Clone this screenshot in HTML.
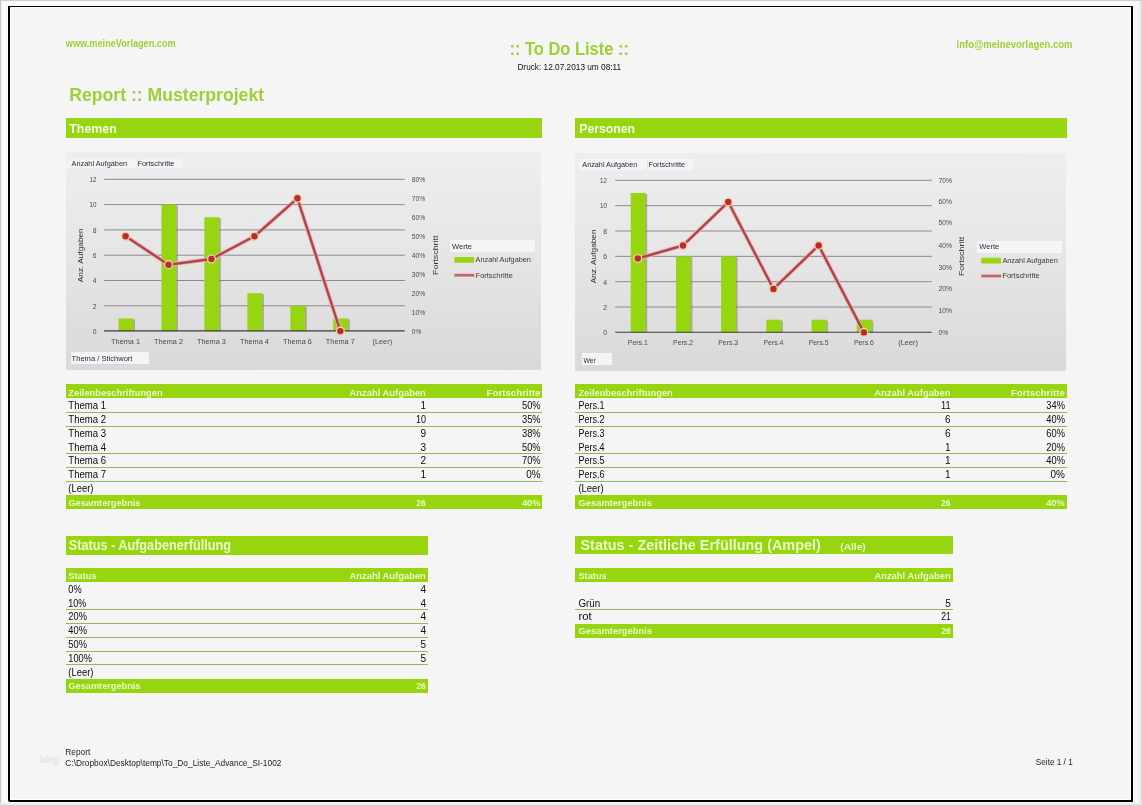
<!DOCTYPE html>
<html lang="de"><head><meta charset="utf-8"><title>To Do Liste - Report</title>
<style>
html,body{margin:0;padding:0}
body{width:1142px;height:806px;position:relative;overflow:hidden;background:#fbfbfb;font-family:"Liberation Sans", sans-serif}
svg text{font-family:"Liberation Sans", sans-serif;white-space:pre}
#page{position:absolute;left:8px;top:6px;width:1121px;height:793px;border:solid #000;border-width:1px 2px 2px 2px;background:#f5f5f5;box-shadow:inset 0 0 0 1px #fff;border-bottom-left-radius:2px}
</style></head><body>
<div style="position:absolute;left:0;top:0;width:1142px;height:1px;background:#d2d2d2"></div>
<div style="position:absolute;left:0;top:0;width:1px;height:806px;background:#c8c8c8"></div>
<div style="position:absolute;left:1px;top:1px;width:1px;height:805px;background:#f0f0f0"></div>
<div style="position:absolute;left:1134px;top:1px;width:8px;height:805px;background:linear-gradient(to right,#f5f5f5,#fafafa 30%,#f3f3f3 60%,#eee 78%,#e2e2e2 90%,#d2d2d2)"></div>
<div style="position:absolute;left:0;top:803px;width:1142px;height:2px;background:#ececec"></div>
<div style="position:absolute;left:0;top:805px;width:1142px;height:1px;background:#cfcfcf"></div>
<div id="page"></div>
<div style="position:absolute;left:66px;top:118px;width:476px;height:20px;background:#96d50f;"></div>
<div style="position:absolute;left:575px;top:118px;width:492px;height:20px;background:#96d50f;"></div>
<div style="position:absolute;left:66px;top:152px;width:475px;height:217.9px;background:linear-gradient(#eeeeee,#e6e6e6 45%,#d9d9d9);"></div>
<svg style="position:absolute;left:0;top:0" width="1142" height="806" viewBox="0 0 1142 806"><line x1="104.1" x2="404.8" y1="305.80" y2="305.80" stroke="#8a8a8a" stroke-width="1"/><line x1="104.1" x2="404.8" y1="280.50" y2="280.50" stroke="#8a8a8a" stroke-width="1"/><line x1="104.1" x2="404.8" y1="255.20" y2="255.20" stroke="#8a8a8a" stroke-width="1"/><line x1="104.1" x2="404.8" y1="229.90" y2="229.90" stroke="#8a8a8a" stroke-width="1"/><line x1="104.1" x2="404.8" y1="204.60" y2="204.60" stroke="#8a8a8a" stroke-width="1"/><line x1="104.1" x2="404.8" y1="179.30" y2="179.30" stroke="#8a8a8a" stroke-width="1"/><rect x="119.98" y="319.45" width="15" height="11.65" fill="#666" opacity=".45"/><rect x="118.48" y="318.45" width="15" height="12.65" fill="#96d50f"/><rect x="162.94" y="205.60" width="15" height="125.50" fill="#666" opacity=".45"/><rect x="161.44" y="204.60" width="15" height="126.50" fill="#96d50f"/><rect x="205.89" y="218.25" width="15" height="112.85" fill="#666" opacity=".45"/><rect x="204.39" y="217.25" width="15" height="113.85" fill="#96d50f"/><rect x="248.85" y="294.15" width="15" height="36.95" fill="#666" opacity=".45"/><rect x="247.35" y="293.15" width="15" height="37.95" fill="#96d50f"/><rect x="291.81" y="306.80" width="15" height="24.30" fill="#666" opacity=".45"/><rect x="290.31" y="305.80" width="15" height="25.30" fill="#96d50f"/><rect x="334.76" y="319.45" width="15" height="11.65" fill="#666" opacity=".45"/><rect x="333.26" y="318.45" width="15" height="12.65" fill="#96d50f"/><line x1="104.1" x2="404.8" y1="330.90" y2="330.90" stroke="#3c3c3c" stroke-width="1.1"/><polyline points="125.58,236.23 168.54,264.69 211.49,259.00 254.45,236.23 297.41,198.28 340.36,331.10" fill="none" stroke="#ecb4b2" stroke-width="4.4" stroke-linejoin="round" opacity=".8"/><polyline points="125.58,236.23 168.54,264.69 211.49,259.00 254.45,236.23 297.41,198.28 340.36,331.10" fill="none" stroke="#ad464c" stroke-width="2.4" stroke-linejoin="round"/><circle cx="125.58" cy="236.23" r="3.9" fill="#b92c2c" stroke="#f3cfa8" stroke-width="1.4"/><circle cx="168.54" cy="264.69" r="3.9" fill="#b92c2c" stroke="#f3cfa8" stroke-width="1.4"/><circle cx="211.49" cy="259.00" r="3.9" fill="#b92c2c" stroke="#f3cfa8" stroke-width="1.4"/><circle cx="254.45" cy="236.23" r="3.9" fill="#b92c2c" stroke="#f3cfa8" stroke-width="1.4"/><circle cx="297.41" cy="198.28" r="3.9" fill="#b92c2c" stroke="#f3cfa8" stroke-width="1.4"/><circle cx="340.36" cy="331.10" r="3.9" fill="#b92c2c" stroke="#f3cfa8" stroke-width="1.4"/><rect x="454.4" y="257.0" width="19.8" height="5.8" rx="1.2" fill="#96d50f"/><line x1="454.4" x2="474.4" y1="275.2" y2="275.2" stroke="#cd6269" stroke-width="2.8"/></svg>
<div style="position:absolute;left:68px;top:158.6px;width:68.6px;height:9.8px;background:#f2f4f6;"></div>
<div style="position:absolute;left:136.6px;top:158.6px;width:46px;height:9.8px;background:#f2f4f6;border-left:1px solid #e2e5ea;box-sizing:border-box"></div>
<div style="position:absolute;left:70.5px;top:352.4px;width:78.8px;height:11.7px;background:#f2f4f6;"></div>
<div style="position:absolute;left:449.6px;top:239.7px;width:85.8px;height:12px;background:#f3f5f7;"></div>
<div style="position:absolute;left:575px;top:152.5px;width:491.3px;height:218.4px;background:linear-gradient(#eeeeee,#e6e6e6 45%,#d9d9d9);"></div>
<svg style="position:absolute;left:0;top:0" width="1142" height="806" viewBox="0 0 1142 806"><line x1="615.2" x2="931.7" y1="307.05" y2="307.05" stroke="#8a8a8a" stroke-width="1"/><line x1="615.2" x2="931.7" y1="281.70" y2="281.70" stroke="#8a8a8a" stroke-width="1"/><line x1="615.2" x2="931.7" y1="256.35" y2="256.35" stroke="#8a8a8a" stroke-width="1"/><line x1="615.2" x2="931.7" y1="231.00" y2="231.00" stroke="#8a8a8a" stroke-width="1"/><line x1="615.2" x2="931.7" y1="205.65" y2="205.65" stroke="#8a8a8a" stroke-width="1"/><line x1="615.2" x2="931.7" y1="180.30" y2="180.30" stroke="#8a8a8a" stroke-width="1"/><rect x="632.21" y="193.98" width="15" height="138.42" fill="#666" opacity=".45"/><rect x="630.71" y="192.98" width="15" height="139.42" fill="#96d50f"/><rect x="677.42" y="257.35" width="15" height="75.05" fill="#666" opacity=".45"/><rect x="675.92" y="256.35" width="15" height="76.05" fill="#96d50f"/><rect x="722.64" y="257.35" width="15" height="75.05" fill="#666" opacity=".45"/><rect x="721.14" y="256.35" width="15" height="76.05" fill="#96d50f"/><rect x="767.85" y="320.72" width="15" height="11.68" fill="#666" opacity=".45"/><rect x="766.35" y="319.72" width="15" height="12.68" fill="#96d50f"/><rect x="813.06" y="320.72" width="15" height="11.68" fill="#666" opacity=".45"/><rect x="811.56" y="319.72" width="15" height="12.68" fill="#96d50f"/><rect x="858.28" y="320.72" width="15" height="11.68" fill="#666" opacity=".45"/><rect x="856.78" y="319.72" width="15" height="12.68" fill="#96d50f"/><line x1="615.2" x2="931.7" y1="332.20" y2="332.20" stroke="#3c3c3c" stroke-width="1.1"/><polyline points="637.81,258.52 683.02,245.49 728.24,202.03 773.45,288.94 818.66,245.49 863.88,332.40" fill="none" stroke="#ecb4b2" stroke-width="4.4" stroke-linejoin="round" opacity=".8"/><polyline points="637.81,258.52 683.02,245.49 728.24,202.03 773.45,288.94 818.66,245.49 863.88,332.40" fill="none" stroke="#ad464c" stroke-width="2.4" stroke-linejoin="round"/><circle cx="637.81" cy="258.52" r="3.9" fill="#b92c2c" stroke="#f3cfa8" stroke-width="1.4"/><circle cx="683.02" cy="245.49" r="3.9" fill="#b92c2c" stroke="#f3cfa8" stroke-width="1.4"/><circle cx="728.24" cy="202.03" r="3.9" fill="#b92c2c" stroke="#f3cfa8" stroke-width="1.4"/><circle cx="773.45" cy="288.94" r="3.9" fill="#b92c2c" stroke="#f3cfa8" stroke-width="1.4"/><circle cx="818.66" cy="245.49" r="3.9" fill="#b92c2c" stroke="#f3cfa8" stroke-width="1.4"/><circle cx="863.88" cy="332.40" r="3.9" fill="#b92c2c" stroke="#f3cfa8" stroke-width="1.4"/><rect x="981.2" y="257.8" width="19.8" height="5.8" rx="1.2" fill="#96d50f"/><line x1="981.2" x2="1001.2" y1="276" y2="276" stroke="#cd6269" stroke-width="2.8"/></svg>
<div style="position:absolute;left:578.6px;top:158.6px;width:68px;height:11px;background:#f2f4f6;"></div>
<div style="position:absolute;left:646.6px;top:158.6px;width:46px;height:11px;background:#f2f4f6;border-left:1px solid #e2e5ea;box-sizing:border-box"></div>
<div style="position:absolute;left:581.8px;top:353.2px;width:30.3px;height:12px;background:#f2f4f6;"></div>
<div style="position:absolute;left:976.9px;top:240.6px;width:84.7px;height:12.5px;background:#f3f5f7;"></div>
<div style="position:absolute;left:66px;top:384.1px;width:476px;height:14.099999999999966px;background:#96d50f;"></div>
<div style="position:absolute;left:66px;top:411.9px;width:476px;height:1px;background:#98b45c;"></div>
<div style="position:absolute;left:66px;top:425.8px;width:476px;height:1px;background:#98b45c;"></div>
<div style="position:absolute;left:66px;top:452.7px;width:476px;height:1px;background:#98b45c;"></div>
<div style="position:absolute;left:66px;top:466.7px;width:476px;height:1px;background:#98b45c;"></div>
<div style="position:absolute;left:66px;top:481.1px;width:476px;height:1px;background:#98b45c;"></div>
<div style="position:absolute;left:66px;top:494.5px;width:476px;height:14.100000000000023px;background:#96d50f;"></div>
<div style="position:absolute;left:575px;top:384.1px;width:492px;height:14.099999999999966px;background:#96d50f;"></div>
<div style="position:absolute;left:575px;top:411.9px;width:492px;height:1px;background:#98b45c;"></div>
<div style="position:absolute;left:575px;top:425.8px;width:492px;height:1px;background:#98b45c;"></div>
<div style="position:absolute;left:575px;top:452.7px;width:492px;height:1px;background:#98b45c;"></div>
<div style="position:absolute;left:575px;top:466.7px;width:492px;height:1px;background:#98b45c;"></div>
<div style="position:absolute;left:575px;top:481.1px;width:492px;height:1px;background:#98b45c;"></div>
<div style="position:absolute;left:575px;top:494.5px;width:492px;height:14.100000000000023px;background:#96d50f;"></div>
<div style="position:absolute;left:66px;top:536px;width:362px;height:18.5px;background:#96d50f;"></div>
<div style="position:absolute;left:575px;top:536px;width:378px;height:18.2px;background:#96d50f;"></div>
<div style="position:absolute;left:66px;top:568px;width:362px;height:14.299999999999955px;background:#96d50f;"></div>
<div style="position:absolute;left:66px;top:608.9px;width:362px;height:1px;background:#98b45c;"></div>
<div style="position:absolute;left:66px;top:622.7px;width:362px;height:1px;background:#98b45c;"></div>
<div style="position:absolute;left:66px;top:637.0px;width:362px;height:1px;background:#98b45c;"></div>
<div style="position:absolute;left:66px;top:650.9px;width:362px;height:1px;background:#98b45c;"></div>
<div style="position:absolute;left:66px;top:664.1px;width:362px;height:1px;background:#98b45c;"></div>
<div style="position:absolute;left:66px;top:678.5px;width:362px;height:14.299999999999955px;background:#96d50f;"></div>
<div style="position:absolute;left:575px;top:568.1px;width:378px;height:14.299999999999955px;background:#96d50f;"></div>
<div style="position:absolute;left:575px;top:609.0px;width:378px;height:1px;background:#98b45c;"></div>
<div style="position:absolute;left:575px;top:623.6px;width:378px;height:14.399999999999977px;background:#96d50f;"></div>
<svg style="position:absolute;left:0;top:0" width="1142" height="806" viewBox="0 0 1142 806">
<text transform="translate(65.80 46.80) scale(0.9164 1)" font-size="10" font-weight="bold" fill="#9fcf36">www.meineVorlagen.com</text>
<text transform="translate(509.50 55.10) scale(0.9147 1)" font-size="18" font-weight="bold" fill="#9fcf36">:: To Do Liste ::</text>
<text transform="translate(517.40 69.80) scale(0.9752 1)" font-size="8.5" fill="#111">Druck: 12.07.2013 um 08:11</text>
<text transform="translate(956.60 47.90) scale(0.9508 1)" font-size="10" font-weight="bold" fill="#9fcf36">info@meinevorlagen.com</text>
<text transform="translate(69.30 100.80) scale(1.0078 1)" font-size="17.5" font-weight="bold" fill="#9fcf36">Report :: Musterprojekt</text>
<text transform="translate(69.30 133.00) scale(0.9909 1)" font-size="12.5" font-weight="bold" fill="#f4fce0">Themen</text>
<text transform="translate(579.20 133.00) scale(0.9830 1)" font-size="12.5" font-weight="bold" fill="#f4fce0">Personen</text>
<text transform="translate(92.70 333.90) scale(0.9109 1)" font-size="7.5" fill="#4a4a4a">0</text>
<text transform="translate(92.70 308.60) scale(0.9109 1)" font-size="7.5" fill="#4a4a4a">2</text>
<text transform="translate(92.70 283.30) scale(0.9109 1)" font-size="7.5" fill="#4a4a4a">4</text>
<text transform="translate(92.70 258.00) scale(0.9109 1)" font-size="7.5" fill="#4a4a4a">6</text>
<text transform="translate(92.70 232.70) scale(0.9109 1)" font-size="7.5" fill="#4a4a4a">8</text>
<text transform="translate(89.50 207.40) scale(0.8390 1)" font-size="7.5" fill="#4a4a4a">10</text>
<text transform="translate(89.50 182.10) scale(0.8390 1)" font-size="7.5" fill="#4a4a4a">12</text>
<text transform="translate(411.80 333.90) scale(0.8761 1)" font-size="7.5" fill="#4a4a4a">0%</text>
<text transform="translate(411.80 314.93) scale(0.8991 1)" font-size="7.5" fill="#4a4a4a">10%</text>
<text transform="translate(411.80 295.95) scale(0.8991 1)" font-size="7.5" fill="#4a4a4a">20%</text>
<text transform="translate(411.80 276.98) scale(0.8991 1)" font-size="7.5" fill="#4a4a4a">30%</text>
<text transform="translate(411.80 258.00) scale(0.8991 1)" font-size="7.5" fill="#4a4a4a">40%</text>
<text transform="translate(411.80 239.03) scale(0.8991 1)" font-size="7.5" fill="#4a4a4a">50%</text>
<text transform="translate(411.80 220.05) scale(0.8991 1)" font-size="7.5" fill="#4a4a4a">60%</text>
<text transform="translate(411.80 201.08) scale(0.8991 1)" font-size="7.5" fill="#4a4a4a">70%</text>
<text transform="translate(411.80 182.10) scale(0.8991 1)" font-size="7.5" fill="#4a4a4a">80%</text>
<text transform="translate(111.08 344.20) scale(0.9794 1)" font-size="7.5" fill="#4a4a4a">Thema 1</text>
<text transform="translate(154.04 344.20) scale(0.9794 1)" font-size="7.5" fill="#4a4a4a">Thema 2</text>
<text transform="translate(196.99 344.20) scale(0.9794 1)" font-size="7.5" fill="#4a4a4a">Thema 3</text>
<text transform="translate(239.95 344.20) scale(0.9794 1)" font-size="7.5" fill="#4a4a4a">Thema 4</text>
<text transform="translate(282.91 344.20) scale(0.9794 1)" font-size="7.5" fill="#4a4a4a">Thema 6</text>
<text transform="translate(325.86 344.20) scale(0.9794 1)" font-size="7.5" fill="#4a4a4a">Thema 7</text>
<text transform="translate(372.52 344.20) scale(0.9792 1)" font-size="7.5" fill="#4a4a4a">(Leer)</text>
<text transform="translate(80.20 255.20) rotate(-90) scale(1.0375 1) translate(-26.02 2.88)" font-size="8" fill="#333">Anz. Aufgaben</text>
<text transform="translate(435.20 255.20) rotate(-90) scale(1.1107 1) translate(-17.78 2.88)" font-size="8" fill="#333">Fortschritt</text>
<text transform="translate(71.60 166.20) scale(0.9803 1)" font-size="7.5" fill="#2a2d3a">Anzahl Aufgaben</text>
<text transform="translate(137.40 166.20) scale(0.9863 1)" font-size="7.5" fill="#2a2d3a">Fortschritte</text>
<text transform="translate(71.60 361.00) scale(1.0093 1)" font-size="7.5" fill="#2a2d3a">Thema / Stichwort</text>
<text transform="translate(452.00 248.80) scale(1.0063 1)" font-size="7.5" fill="#2a2d3a">Werte</text>
<text transform="translate(475.60 261.80) scale(0.9767 1)" font-size="7.5" fill="#3a3a3a">Anzahl Aufgaben</text>
<text transform="translate(475.60 277.90) scale(0.9969 1)" font-size="7.5" fill="#3a3a3a">Fortschritte</text>
<text transform="translate(603.20 335.20) scale(0.9109 1)" font-size="7.5" fill="#4a4a4a">0</text>
<text transform="translate(603.20 309.85) scale(0.9109 1)" font-size="7.5" fill="#4a4a4a">2</text>
<text transform="translate(603.20 284.50) scale(0.9109 1)" font-size="7.5" fill="#4a4a4a">4</text>
<text transform="translate(603.20 259.15) scale(0.9109 1)" font-size="7.5" fill="#4a4a4a">6</text>
<text transform="translate(603.20 233.80) scale(0.9109 1)" font-size="7.5" fill="#4a4a4a">8</text>
<text transform="translate(600.00 208.45) scale(0.8390 1)" font-size="7.5" fill="#4a4a4a">10</text>
<text transform="translate(600.00 183.10) scale(0.8390 1)" font-size="7.5" fill="#4a4a4a">12</text>
<text transform="translate(938.60 335.20) scale(0.8761 1)" font-size="7.5" fill="#4a4a4a">0%</text>
<text transform="translate(938.60 313.07) scale(0.8991 1)" font-size="7.5" fill="#4a4a4a">10%</text>
<text transform="translate(938.60 290.54) scale(0.8991 1)" font-size="7.5" fill="#4a4a4a">20%</text>
<text transform="translate(938.60 270.21) scale(0.8991 1)" font-size="7.5" fill="#4a4a4a">30%</text>
<text transform="translate(938.60 247.99) scale(0.8991 1)" font-size="7.5" fill="#4a4a4a">40%</text>
<text transform="translate(938.60 225.46) scale(0.8991 1)" font-size="7.5" fill="#4a4a4a">50%</text>
<text transform="translate(938.60 203.83) scale(0.8991 1)" font-size="7.5" fill="#4a4a4a">60%</text>
<text transform="translate(938.60 183.10) scale(0.8991 1)" font-size="7.5" fill="#4a4a4a">70%</text>
<text transform="translate(627.81 345.20) scale(0.9222 1)" font-size="7.5" fill="#4a4a4a">Pers.1</text>
<text transform="translate(673.02 345.20) scale(0.9222 1)" font-size="7.5" fill="#4a4a4a">Pers.2</text>
<text transform="translate(718.24 345.20) scale(0.9222 1)" font-size="7.5" fill="#4a4a4a">Pers.3</text>
<text transform="translate(763.45 345.20) scale(0.9222 1)" font-size="7.5" fill="#4a4a4a">Pers.4</text>
<text transform="translate(808.66 345.20) scale(0.9222 1)" font-size="7.5" fill="#4a4a4a">Pers.5</text>
<text transform="translate(853.88 345.20) scale(0.9222 1)" font-size="7.5" fill="#4a4a4a">Pers.6</text>
<text transform="translate(898.29 345.20) scale(0.9792 1)" font-size="7.5" fill="#4a4a4a">(Leer)</text>
<text transform="translate(592.80 256.35) rotate(-90) scale(1.0375 1) translate(-26.02 2.88)" font-size="8" fill="#333">Anz. Aufgaben</text>
<text transform="translate(961.30 256.35) rotate(-90) scale(1.1107 1) translate(-17.78 2.88)" font-size="8" fill="#333">Fortschritt</text>
<text transform="translate(582.30 166.90) scale(0.9697 1)" font-size="7.5" fill="#2a2d3a">Anzahl Aufgaben</text>
<text transform="translate(648.50 166.90) scale(0.9783 1)" font-size="7.5" fill="#2a2d3a">Fortschritte</text>
<text transform="translate(583.40 363.00) scale(0.9101 1)" font-size="7.5" fill="#2a2d3a">Wer</text>
<text transform="translate(979.30 249.30) scale(1.0063 1)" font-size="7.5" fill="#2a2d3a">Werte</text>
<text transform="translate(1002.40 262.80) scale(0.9767 1)" font-size="7.5" fill="#3a3a3a">Anzahl Aufgaben</text>
<text transform="translate(1002.40 278.10) scale(0.9969 1)" font-size="7.5" fill="#3a3a3a">Fortschritte</text>
<text transform="translate(68.30 395.90) scale(0.9846 1)" font-size="9.5" font-weight="bold" fill="#eaf8c8">Zeilenbeschriftungen</text>
<text transform="translate(349.50 395.90) scale(0.9905 1)" font-size="9.5" font-weight="bold" fill="#eaf8c8">Anzahl Aufgaben</text>
<text transform="translate(486.60 395.90) scale(1.0228 1)" font-size="9.5" font-weight="bold" fill="#eaf8c8">Fortschritte</text>
<text transform="translate(68.30 408.90) scale(0.9402 1)" font-size="10.2" fill="#0c0c0c">Thema 1</text>
<text transform="translate(420.40 408.90) scale(0.9873 1)" font-size="10.2" fill="#0c0c0c">1</text>
<text transform="translate(522.00 408.90) scale(0.9122 1)" font-size="10.2" fill="#0c0c0c">50%</text>
<text transform="translate(68.30 423.00) scale(0.9402 1)" font-size="10.2" fill="#0c0c0c">Thema 2</text>
<text transform="translate(416.00 423.00) scale(0.8815 1)" font-size="10.2" fill="#0c0c0c">10</text>
<text transform="translate(522.00 423.00) scale(0.9122 1)" font-size="10.2" fill="#0c0c0c">35%</text>
<text transform="translate(68.30 436.90) scale(0.9402 1)" font-size="10.2" fill="#0c0c0c">Thema 3</text>
<text transform="translate(420.40 436.90) scale(0.9873 1)" font-size="10.2" fill="#0c0c0c">9</text>
<text transform="translate(522.00 436.90) scale(0.9122 1)" font-size="10.2" fill="#0c0c0c">38%</text>
<text transform="translate(68.30 451.00) scale(0.9402 1)" font-size="10.2" fill="#0c0c0c">Thema 4</text>
<text transform="translate(420.40 451.00) scale(0.9873 1)" font-size="10.2" fill="#0c0c0c">3</text>
<text transform="translate(522.00 451.00) scale(0.9122 1)" font-size="10.2" fill="#0c0c0c">50%</text>
<text transform="translate(68.30 463.80) scale(0.9402 1)" font-size="10.2" fill="#0c0c0c">Thema 6</text>
<text transform="translate(420.40 463.80) scale(0.9873 1)" font-size="10.2" fill="#0c0c0c">2</text>
<text transform="translate(522.00 463.80) scale(0.9122 1)" font-size="10.2" fill="#0c0c0c">70%</text>
<text transform="translate(68.30 477.90) scale(0.9402 1)" font-size="10.2" fill="#0c0c0c">Thema 7</text>
<text transform="translate(420.40 477.90) scale(0.9873 1)" font-size="10.2" fill="#0c0c0c">1</text>
<text transform="translate(526.20 477.90) scale(0.9773 1)" font-size="10.2" fill="#0c0c0c">0%</text>
<text transform="translate(68.30 492.00) scale(0.9269 1)" font-size="10.2" fill="#0c0c0c">(Leer)</text>
<text transform="translate(68.40 505.90) scale(0.9697 1)" font-size="9.5" font-weight="bold" fill="#eaf8c8">Gesamtergebnis</text>
<text transform="translate(416.30 505.90) scale(0.9075 1)" font-size="9.5" font-weight="bold" fill="#eaf8c8">26</text>
<text transform="translate(521.90 505.90) scale(0.9781 1)" font-size="9.5" font-weight="bold" fill="#eaf8c8">40%</text>
<text transform="translate(578.40 395.90) scale(0.9846 1)" font-size="9.5" font-weight="bold" fill="#eaf8c8">Zeilenbeschriftungen</text>
<text transform="translate(874.20 395.90) scale(0.9905 1)" font-size="9.5" font-weight="bold" fill="#eaf8c8">Anzahl Aufgaben</text>
<text transform="translate(1010.90 395.90) scale(1.0228 1)" font-size="9.5" font-weight="bold" fill="#eaf8c8">Fortschritte</text>
<text transform="translate(578.40 408.90) scale(0.8828 1)" font-size="10.2" fill="#0c0c0c">Pers.1</text>
<text transform="translate(941.10 408.90) scale(0.9075 1)" font-size="10.2" fill="#0c0c0c">11</text>
<text transform="translate(1046.30 408.90) scale(0.9122 1)" font-size="10.2" fill="#0c0c0c">34%</text>
<text transform="translate(578.40 423.00) scale(0.8828 1)" font-size="10.2" fill="#0c0c0c">Pers.2</text>
<text transform="translate(945.10 423.00) scale(0.9873 1)" font-size="10.2" fill="#0c0c0c">6</text>
<text transform="translate(1046.30 423.00) scale(0.9122 1)" font-size="10.2" fill="#0c0c0c">40%</text>
<text transform="translate(578.40 436.90) scale(0.8828 1)" font-size="10.2" fill="#0c0c0c">Pers.3</text>
<text transform="translate(945.10 436.90) scale(0.9873 1)" font-size="10.2" fill="#0c0c0c">6</text>
<text transform="translate(1046.30 436.90) scale(0.9122 1)" font-size="10.2" fill="#0c0c0c">60%</text>
<text transform="translate(578.40 451.00) scale(0.8828 1)" font-size="10.2" fill="#0c0c0c">Pers.4</text>
<text transform="translate(945.10 451.00) scale(0.9873 1)" font-size="10.2" fill="#0c0c0c">1</text>
<text transform="translate(1046.30 451.00) scale(0.9122 1)" font-size="10.2" fill="#0c0c0c">20%</text>
<text transform="translate(578.40 463.80) scale(0.8828 1)" font-size="10.2" fill="#0c0c0c">Pers.5</text>
<text transform="translate(945.10 463.80) scale(0.9873 1)" font-size="10.2" fill="#0c0c0c">1</text>
<text transform="translate(1046.30 463.80) scale(0.9122 1)" font-size="10.2" fill="#0c0c0c">40%</text>
<text transform="translate(578.40 477.90) scale(0.8828 1)" font-size="10.2" fill="#0c0c0c">Pers.6</text>
<text transform="translate(945.10 477.90) scale(0.9873 1)" font-size="10.2" fill="#0c0c0c">1</text>
<text transform="translate(1050.50 477.90) scale(0.9773 1)" font-size="10.2" fill="#0c0c0c">0%</text>
<text transform="translate(578.40 492.00) scale(0.9269 1)" font-size="10.2" fill="#0c0c0c">(Leer)</text>
<text transform="translate(578.50 505.90) scale(0.9872 1)" font-size="9.5" font-weight="bold" fill="#eaf8c8">Gesamtergebnis</text>
<text transform="translate(941.00 505.90) scale(0.9075 1)" font-size="9.5" font-weight="bold" fill="#eaf8c8">26</text>
<text transform="translate(1046.20 505.90) scale(0.9781 1)" font-size="9.5" font-weight="bold" fill="#eaf8c8">40%</text>
<text transform="translate(68.70 550.00) scale(0.9187 1)" font-size="13.8" font-weight="bold" fill="#eaf8c8">Status - Aufgabenerfüllung</text>
<text transform="translate(580.50 549.70) scale(1.0310 1)" font-size="14" font-weight="bold" fill="#eaf8c8">Status - Zeitliche Erfüllung (Ampel)</text>
<text transform="translate(840.30 549.60) scale(1.0695 1)" font-size="9.5" font-weight="bold" fill="#eaf8c8">(Alle)</text>
<text transform="translate(68.30 578.80) scale(0.9777 1)" font-size="9.5" font-weight="bold" fill="#eaf8c8">Status</text>
<text transform="translate(349.50 578.80) scale(0.9905 1)" font-size="9.5" font-weight="bold" fill="#eaf8c8">Anzahl Aufgaben</text>
<text transform="translate(68.30 592.80) scale(0.9094 1)" font-size="10.2" fill="#0c0c0c">0%</text>
<text transform="translate(420.40 592.80) scale(0.9873 1)" font-size="10.2" fill="#0c0c0c">4</text>
<text transform="translate(68.30 606.80) scale(0.8828 1)" font-size="10.2" fill="#0c0c0c">10%</text>
<text transform="translate(420.40 606.80) scale(0.9873 1)" font-size="10.2" fill="#0c0c0c">4</text>
<text transform="translate(68.30 620.10) scale(0.9122 1)" font-size="10.2" fill="#0c0c0c">20%</text>
<text transform="translate(420.40 620.10) scale(0.9873 1)" font-size="10.2" fill="#0c0c0c">4</text>
<text transform="translate(68.30 633.90) scale(0.9122 1)" font-size="10.2" fill="#0c0c0c">40%</text>
<text transform="translate(420.40 633.90) scale(0.9873 1)" font-size="10.2" fill="#0c0c0c">4</text>
<text transform="translate(68.30 647.70) scale(0.9122 1)" font-size="10.2" fill="#0c0c0c">50%</text>
<text transform="translate(420.40 647.70) scale(0.9873 1)" font-size="10.2" fill="#0c0c0c">5</text>
<text transform="translate(68.30 661.80) scale(0.9055 1)" font-size="10.2" fill="#0c0c0c">100%</text>
<text transform="translate(420.40 661.80) scale(0.9873 1)" font-size="10.2" fill="#0c0c0c">5</text>
<text transform="translate(68.30 675.60) scale(0.9269 1)" font-size="10.2" fill="#0c0c0c">(Leer)</text>
<text transform="translate(68.40 689.20) scale(0.9697 1)" font-size="9.5" font-weight="bold" fill="#eaf8c8">Gesamtergebnis</text>
<text transform="translate(416.30 689.20) scale(0.9075 1)" font-size="9.5" font-weight="bold" fill="#eaf8c8">26</text>
<text transform="translate(578.40 578.80) scale(0.9777 1)" font-size="9.5" font-weight="bold" fill="#eaf8c8">Status</text>
<text transform="translate(874.40 578.80) scale(0.9905 1)" font-size="9.5" font-weight="bold" fill="#eaf8c8">Anzahl Aufgaben</text>
<text transform="translate(578.40 606.70) scale(0.9622 1)" font-size="10.2" fill="#0c0c0c">Grün</text>
<text transform="translate(945.30 606.70) scale(0.9873 1)" font-size="10.2" fill="#0c0c0c">5</text>
<text transform="translate(578.40 619.80) scale(1.1101 1)" font-size="10.2" fill="#0c0c0c">rot</text>
<text transform="translate(941.30 619.80) scale(0.8463 1)" font-size="10.2" fill="#0c0c0c">21</text>
<text transform="translate(578.50 633.80) scale(0.9912 1)" font-size="9.5" font-weight="bold" fill="#eaf8c8">Gesamtergebnis</text>
<text transform="translate(941.20 633.80) scale(0.9075 1)" font-size="9.5" font-weight="bold" fill="#eaf8c8">26</text>
<text transform="translate(65.30 754.80) scale(0.9798 1)" font-size="8.5" fill="#222">Report</text>
<text transform="translate(65.30 765.80) scale(0.9858 1)" font-size="8.5" fill="#222">C:\Dropbox\Desktop\temp\To_Do_Liste_Advance_SI-1002</text>
<text transform="translate(1035.80 764.80) scale(0.9665 1)" font-size="8.5" fill="#222">Seite 1 / 1</text>
<text transform="translate(39.80 763.40) scale(0.8031 1)" font-size="11.5" font-weight="bold" fill="#e3e3e3">blog</text>
</svg>
</body></html>
